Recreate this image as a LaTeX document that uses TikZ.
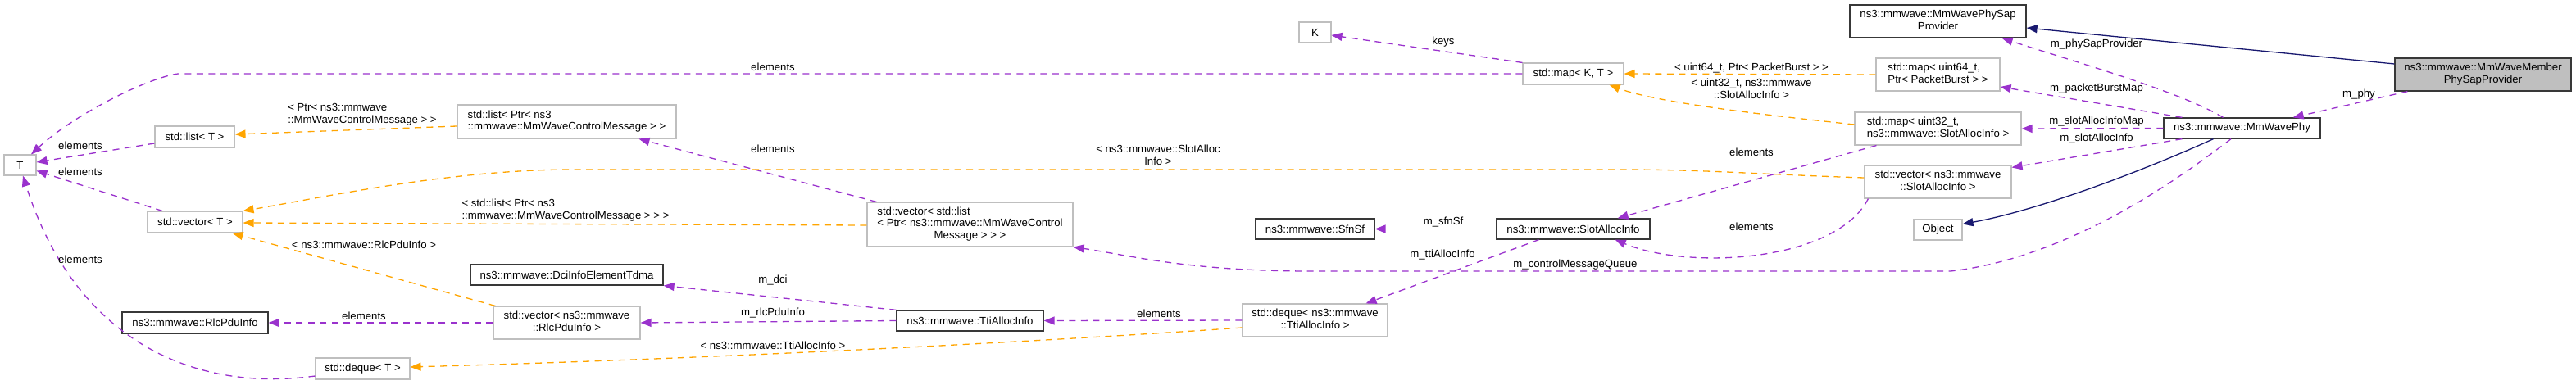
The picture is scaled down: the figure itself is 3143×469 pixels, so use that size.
\documentclass[tikz,border=0pt]{standalone}
\usepackage{fontspec}
\setmainfont{Liberation Sans}
\usetikzlibrary{arrows.meta}
\definecolor{purp}{HTML}{9A32CD}
\definecolor{orng}{HTML}{FFA500}
\definecolor{navyb}{HTML}{191970}
\definecolor{gry}{HTML}{BFBFBF}
\newcommand{\dxf}{\fontsize{13.2pt}{14.7pt}\selectfont}
\newcommand{\twolc}[2]{\begin{tabular}{@{}l@{}}#1\\\multicolumn{1}{@{}c@{}}{#2}\end{tabular}}
\newcommand{\twoll}[2]{\begin{tabular}{@{}l@{}}#1\\#2\end{tabular}}
\newcommand{\twocc}[2]{\begin{tabular}{@{}c@{}}#1\\#2\end{tabular}}
\newcommand{\threellc}[3]{\begin{tabular}{@{}l@{}}#1\\#2\\\multicolumn{1}{@{}c@{}}{#3}\end{tabular}}
\begin{document}
\begin{tikzpicture}[x=1pt,y=-1pt,
  gbox/.style={draw=gry, line width=1.1pt, rectangle, inner sep=0pt, fill=white, font=\dxf},
  docbox/.style={gbox, draw=black!78, line width=1.25pt},
  lbl/.style={inner sep=0pt, font=\dxf},
  memb/.style={draw=purp, line width=1.3pt, dash pattern=on 8pt off 6.5pt, -{Triangle[length=13pt,width=10pt]}},
  tmpl/.style={draw=orng, line width=1.3pt, dash pattern=on 8pt off 6.5pt, -{Triangle[length=13pt,width=10pt]}},
  inher/.style={draw=navyb, line width=1.3pt, -{Triangle[length=13pt,width=10pt]}}
]
\useasboundingbox[fill=white] (0,0) rectangle (3143,469);

% nodes
\node[gbox, minimum width=39pt, minimum height=25pt] (T) at (24.5,201.5) {T};
\node[gbox, minimum width=97pt, minimum height=26pt] (listT) at (237.5,167) {std::list< T >};
\node[gbox, minimum width=116pt, minimum height=26pt] (vecT) at (238,271) {std::vector< T >};
\node[docbox, minimum width=178pt, minimum height=26pt] (rlc) at (238,394) {ns3::mmwave::RlcPduInfo};
\node[gbox, minimum width=115pt, minimum height=26pt] (dequeT) at (442.5,450) {std::deque< T >};
\node[gbox, minimum width=267pt, minimum height=41pt] (listPtr) at (691.5,148.5) {\twolc{std::list< Ptr< ns3}{::mmwave::MmWaveControlMessage > >}};
\node[docbox, minimum width=235pt, minimum height=25pt] (dci) at (691.5,335.5) {ns3::mmwave::DciInfoElementTdma};
\node[gbox, minimum width=179pt, minimum height=40pt] (vecRlc) at (691.5,394) {\twolc{std::vector< ns3::mmwave}{::RlcPduInfo >}};
\node[gbox, minimum width=251pt, minimum height=54pt] (vecList) at (1183.5,274) {\threellc{std::vector< std::list}{< Ptr< ns3::mmwave::MmWaveControl}{Message > > >}};
\node[docbox, minimum width=179pt, minimum height=25pt] (tti) at (1183.5,391.5) {ns3::mmwave::TtiAllocInfo};
\node[gbox, minimum width=39pt, minimum height=25pt] (K) at (1604.5,39.5) {K};
\node[docbox, minimum width=145pt, minimum height=25pt] (sfn) at (1604.5,279.5) {ns3::mmwave::SfnSf};
\node[gbox, minimum width=177pt, minimum height=40pt] (dequeTti) at (1604.5,391) {\twolc{std::deque< ns3::mmwave}{::TtiAllocInfo >}};
\node[gbox, minimum width=123pt, minimum height=26pt] (mapKT) at (1919.5,90) {std::map< K, T >};
\node[docbox, minimum width=187pt, minimum height=25pt] (slot) at (1919.5,279.5) {ns3::mmwave::SlotAllocInfo};
\node[docbox, minimum width=215pt, minimum height=40pt] (physap) at (2364.5,26) {\twolc{ns3::mmwave::MmWavePhySap}{Provider}};
\node[gbox, minimum width=151pt, minimum height=40pt] (map64) at (2364.5,91) {\twolc{std::map< uint64\_t,}{Ptr< PacketBurst > >}};
\node[gbox, minimum width=203pt, minimum height=40pt] (map32) at (2364.5,157) {\twolc{std::map< uint32\_t,}{ns3::mmwave::SlotAllocInfo >}};
\node[gbox, minimum width=179pt, minimum height=40pt] (vecSlot) at (2364.5,222) {\twolc{std::vector< ns3::mmwave}{::SlotAllocInfo >}};
\node[gbox, minimum width=59pt, minimum height=25pt] (object) at (2364.5,280.5) {Object};
\node[docbox, minimum width=191pt, minimum height=25pt] (phy) at (2735.5,156.5) {ns3::mmwave::MmWavePhy};
\node[docbox, fill=gry, minimum width=215pt, minimum height=40pt] (member) at (3029.5,91) {\twolc{ns3::mmwave::MmWaveMember}{PhySapProvider}};

% edges
\draw[memb] (mapKT.west) -- (217,90) .. controls (180,95) and (90,140) .. ([xshift=13.5pt]T.north);
\draw[memb] ([yshift=-8pt]listT.west) -- ([yshift=3.5pt]T.east);
\draw[memb] ([xshift=-40pt]vecT.north) -- ([yshift=-7pt]T.east);
\draw[memb] ([yshift=-9pt]dequeT.west) .. controls (230,480) and (90,410) .. ([xshift=3.5pt]T.south);
\draw[tmpl] ([yshift=-5.5pt]listPtr.west) -- ([yshift=3pt]listT.east);
\draw[tmpl] ([yshift=5pt]vecSlot.west) .. controls (2150,213) and (2080,207) .. (1980,207) -- (700,207) .. controls (550,207) and (400,240) .. (vecT.north east);
\draw[tmpl] ([yshift=-1pt]vecList.west) -- ([yshift=-1pt]vecT.east);
\draw[tmpl] ([xshift=3pt]vecRlc.north west) -- ([xshift=-13pt]vecT.south east);
\draw[memb] (vecRlc.west) -- (rlc.east);
\draw[tmpl] ([yshift=-9pt]dequeTti.west) .. controls (1300,415) and (900,437) .. ([yshift=2pt]dequeT.east);
\draw[memb] ([xshift=12pt]vecList.north west) -- ([xshift=88pt]listPtr.south);
\draw[memb] ([xshift=-13.5pt]phy.south) .. controls (2650,225) and (2520,315) .. (2380,331) -- (1600,331) .. controls (1450,331) and (1380,312) .. (vecList.south east);
\draw[memb] (tti.north west) -- (dci.south east);
\draw[memb] (tti.west) -- (vecRlc.east);
\draw[memb] (dequeTti.west) -- (tti.east);
\draw[memb] (mapKT.north west) -- ([yshift=-3.5pt]K.east);
\draw[memb] (slot.west) -- (sfn.east);
\draw[memb] ([xshift=-42pt]slot.south) -- ([xshift=62pt]dequeTti.north);
\draw[tmpl] (map64.west) -- (mapKT.east);
\draw[tmpl] ([yshift=5pt]map32.west) .. controls (2150,140) and (2020,125) .. ([xshift=-18pt]mapKT.south east);
\draw[memb] ([xshift=27pt]map32.south west) -- ([xshift=-40pt]slot.north east);
\draw[memb] ([xshift=5pt]vecSlot.south west) .. controls (2240,320) and (2060,330) .. ([xshift=-43pt]slot.south east);
\draw[memb] ([xshift=-23pt]phy.north) .. controls (2660,112) and (2540,78) .. ([xshift=-30pt]physap.south east);
\draw[memb] ([xshift=23pt]phy.north west) -- ([yshift=-15pt]map64.east);
\draw[memb] (phy.west) -- (map32.east);
\draw[memb] ([xshift=23pt]phy.south west) -- ([yshift=-3pt]vecSlot.north east);
\draw[inher] ([xshift=-35pt]phy.south) .. controls (2600,215) and (2480,258) .. ([yshift=7pt]object.east);
\draw[inher] ([yshift=13pt]member.west) -- ([yshift=-8pt]physap.east);
\draw[memb] ([xshift=16pt]member.south west) -- ([xshift=-34pt]phy.north east);

% labels
\node[lbl] (l1) at (943,82) {elements};
\node[lbl] (l2) at (98,178) {elements};
\node[lbl] (l3) at (98,210) {elements};
\node[lbl] (l4) at (98,317) {elements};
\node[lbl] (l5) at (442,140) {\twoll{< Ptr< ns3::mmwave}{::MmWaveControlMessage > >}};
\node[lbl] (l6) at (1413,191) {\twocc{< ns3::mmwave::SlotAlloc}{Info >}};
\node[lbl] (l7) at (690,257) {\twoll{< std::list< Ptr< ns3}{::mmwave::MmWaveControlMessage > > >}};
\node[lbl] (l8) at (444,299) {< ns3::mmwave::RlcPduInfo >};
\node[lbl] (l9) at (444,386) {elements};
\node[lbl] (l10) at (943,422) {< ns3::mmwave::TtiAllocInfo >};
\node[lbl] (l11) at (943,182) {elements};
\node[lbl] (l12) at (1922,323) {m\_controlMessageQueue};
\node[lbl] (l13) at (943,342) {m\_dci};
\node[lbl] (l14) at (943,382) {m\_rlcPduInfo};
\node[lbl] (l15) at (1414,383) {elements};
\node[lbl] (l16) at (1761,51) {keys};
\node[lbl] (l17) at (1761,271) {m\_sfnSf};
\node[lbl] (l18) at (1760,311) {m\_ttiAllocInfo};
\node[lbl] (l19) at (2137,83) {< uint64\_t, Ptr< PacketBurst > >};
\node[lbl] (l20) at (2137,110) {\twocc{< uint32\_t, ns3::mmwave}{::SlotAllocInfo >}};
\node[lbl] (l21) at (2137,186) {elements};
\node[lbl] (l22) at (2137,277) {elements};
\node[lbl] (l23) at (2558,54) {m\_phySapProvider};
\node[lbl] (l24) at (2558,108) {m\_packetBurstMap};
\node[lbl] (l25) at (2558,148) {m\_slotAllocInfoMap};
\node[lbl] (l26) at (2558,169) {m\_slotAllocInfo};
\node[lbl] (l27) at (2878,115) {m\_phy};
\end{tikzpicture}
\end{document}
